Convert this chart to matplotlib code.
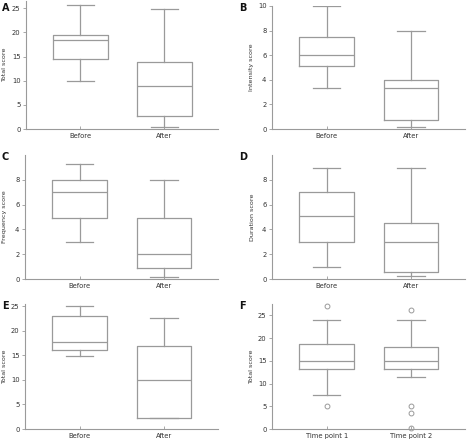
import matplotlib
matplotlib.use("Agg")
import matplotlib.pyplot as plt

# box statistics: (whislo, q1, med, q3, whishi)
groups_ab = ["Before", "After"]
groups_f = ["Time point 1", "Time point 2"]

a_stats = [(10.0, 14.5, 18.5, 19.5, 25.7), (0.5, 2.6, 8.9, 13.8, 24.8)]
b_stats = [(3.35, 5.15, 6.0, 7.5, 10.0), (0.2, 0.7, 3.35, 4.0, 8.0)]
c_stats = [(2.95, 4.95, 7.0, 8.0, 9.3), (0.2, 0.9, 2.0, 4.95, 8.0)]
d_stats = [(0.95, 3.0, 5.05, 7.0, 8.95), (0.25, 0.6, 3.0, 4.55, 8.95)]
e_stats = [(14.9, 16.1, 17.7, 23.0, 25.0), (2.2, 2.2, 10.0, 17.0, 22.6)]
f_stats = [(7.5, 13.3, 15.0, 18.8, 24.0), (11.5, 13.3, 14.9, 18.1, 24.0)]
f_fliers = [[27.1, 5.0], [26.1, 5.0, 3.6, 0.3]]

W, H = 469, 443
fig = plt.figure(figsize=(W / 100, H / 100), dpi=100)

GRAY = "#9a9a9a"
TXT = "#333333"
FS = 4.6


def make_ax(l, r, t, b):
    return fig.add_axes([l / W, 1 - b / H, (r - l) / W, (b - t) / H])


def draw(ax, stats, labels, ylabel, ylim, yticks, label_x, fliers=None):
    bxp = []
    for i, s in enumerate(stats):
        d = dict(whislo=s[0], q1=s[1], med=s[2], q3=s[3], whishi=s[4],
                 fliers=fliers[i] if fliers else [], label=labels[i])
        bxp.append(d)
    lp = dict(color=GRAY, linewidth=0.9)
    ax.bxp(bxp, positions=[1, 2], widths=0.65, showfliers=True,
           boxprops=lp, whiskerprops=lp, capprops=lp, medianprops=lp,
           flierprops=dict(marker="o", markersize=3.5, markerfacecolor="none",
                           markeredgecolor=GRAY, markeredgewidth=0.7,
                           clip_on=False))
    ax.set_xlim(0.35, 2.64)
    ax.set_ylim(*ylim)
    ax.set_yticks(yticks)
    for side in ["top", "right"]:
        ax.spines[side].set_visible(False)
    for side in ["left", "bottom"]:
        ax.spines[side].set_color(GRAY)
        ax.spines[side].set_linewidth(0.8)
    ax.tick_params(axis="y", direction="out", length=2, width=0.6, colors=GRAY,
                   labelcolor=TXT, labelsize=FS + 0.3, pad=2)
    ax.tick_params(axis="x", direction="in", length=2, width=0.6, colors=GRAY,
                   labelcolor=TXT, labelsize=FS + 0.3, pad=3)
    ax.set_ylabel(ylabel, fontsize=FS, color=TXT, va="center")
    # label position given in pixels left of the spine
    ax.yaxis.set_label_coords(label_x, 0.5)
    return ax


draw(make_ax(26, 218, 1, 129), a_stats, groups_ab, "Total score",
     (0, 26.5), [0, 5, 10, 15, 20, 25], -0.11)
draw(make_ax(272, 465, 6, 129), b_stats, groups_ab, "Intensity score",
     (0, 10), [0, 2, 4, 6, 8, 10], -0.104)
draw(make_ax(25, 218, 155, 279), c_stats, groups_ab, "Frequency score",
     (0, 10), [0, 2, 4, 6, 8], -0.104)
draw(make_ax(272, 465, 155, 279), d_stats, groups_ab, "Duration score",
     (0, 10), [0, 2, 4, 6, 8], -0.1)
draw(make_ax(25, 218, 304, 429), e_stats, groups_ab, "Total score",
     (0, 25.5), [0, 5, 10, 15, 20, 25], -0.104)
draw(make_ax(272, 465, 304, 429), f_stats, groups_f, "Total score",
     (0, 27.5), [0, 5, 10, 15, 20, 25], -0.104, fliers=f_fliers)

# panel letters
for letter, (x, y) in zip("ABCDEF", [(2, 8), (239, 8), (2, 157), (239, 157),
                                     (2, 306), (239, 306)]):
    fig.text(x / W, 1 - y / H, letter, fontsize=7, fontweight="bold",
             va="center", ha="left", color="#111111")

fig.savefig("out.png", dpi=100)
